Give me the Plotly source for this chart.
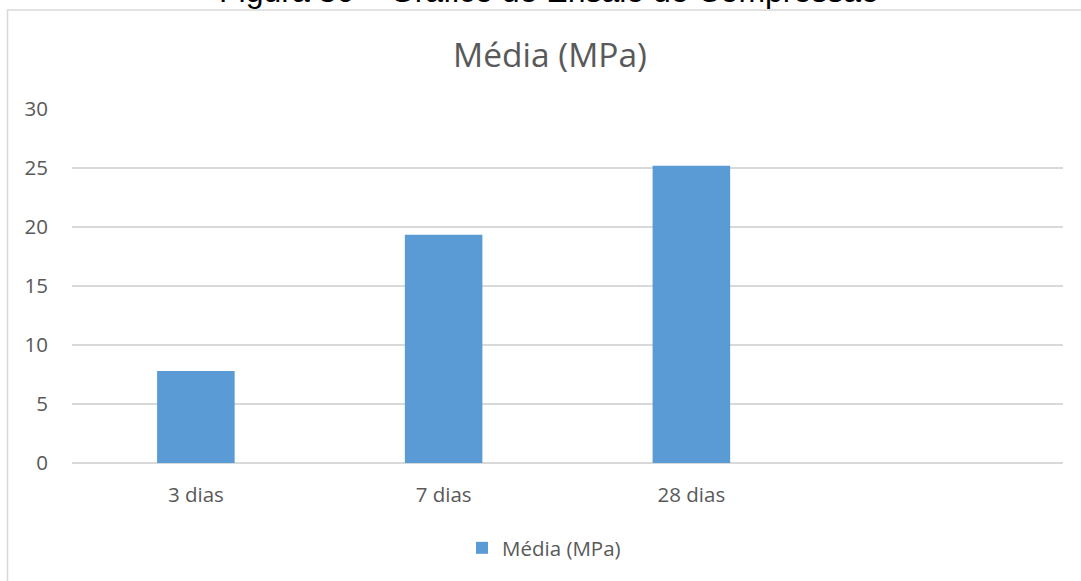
import plotly.graph_objects as go

# Compressive strength test results (mean, MPa)
categorias = ["3 dias", "7 dias", "28 dias"]
media_mpa = [7.8, 19.35, 25.2]
serie_nome = "Média (MPa)"
y_ticks = [0, 5, 10, 15, 20, 25, 30]

W, H = 1081, 581
ML, MR, MT, MB = 72, 18, 109, 118
plot_w = W - ML - MR
plot_h = H - MT - MB


def px_x(px):
    return (px - ML) / plot_w


def px_y(py):
    return (H - MB - py) / plot_h


fig = go.Figure()
fig.add_trace(go.Bar(
    x=categorias,
    y=media_mpa,
    name=serie_nome,
    marker=dict(color="#5b9bd5", line=dict(width=0)),
    width=0.313,
    showlegend=True,
))

grid_color = "#d9d9d9"
txt_color = "#595959"
font_fam = "Open Sans, sans-serif"

fig.update_layout(
    width=W,
    height=H,
    margin=dict(l=ML, r=MR, t=MT, b=MB, pad=0),
    paper_bgcolor="white",
    plot_bgcolor="white",
    font=dict(family=font_fam, color=txt_color, size=20),
    title=dict(
        text="Média (MPa)",
        font=dict(family=font_fam, size=33.5, color=txt_color),
        x=550 / W, xanchor="center", xref="container",
        y=1 - 55 / H, yanchor="middle", yref="container",
    ),
    xaxis=dict(
        type="category",
        range=[-0.5, 3.5],
        showgrid=False,
        showline=False,
        zeroline=False,
        ticks="",
        tickfont=dict(size=20.5, color=txt_color),
        ticklabelstandoff=17,
    ),
    yaxis=dict(
        range=[0, 30],
        tickvals=y_ticks,
        showgrid=True,
        gridcolor=grid_color,
        gridwidth=1.5,
        zeroline=True,
        zerolinecolor=grid_color,
        zerolinewidth=1.5,
        showline=False,
        ticks="",
        tickfont=dict(size=20.5, color=txt_color),
        ticklabelstandoff=23,
    ),
    legend=dict(
        orientation="h",
        x=px_x(544), xanchor="center",
        y=px_y(548), yanchor="middle",
        font=dict(size=20.5, color=txt_color),
        bgcolor="rgba(0,0,0,0)",
    ),
    showlegend=True,
)

# Chart frame
fig.add_shape(
    type="rect", xref="paper", yref="paper",
    x0=px_x(7.5), x1=px_x(1095), y0=px_y(600), y1=px_y(10),
    line=dict(color=grid_color, width=1.5),
    fillcolor="rgba(0,0,0,0)",
    layer="below",
)

# Figure caption above the frame
fig.add_annotation(
    text="Figura 30 – Gráfico de Ensaio de Compressão",
    xref="paper", yref="paper",
    x=px_x(549), y=px_y(11),
    xanchor="center", yanchor="bottom",
    showarrow=False,
    font=dict(family="Liberation Sans, Arial, sans-serif", size=32, color="black"),
)

fig.write_html("out.html")
